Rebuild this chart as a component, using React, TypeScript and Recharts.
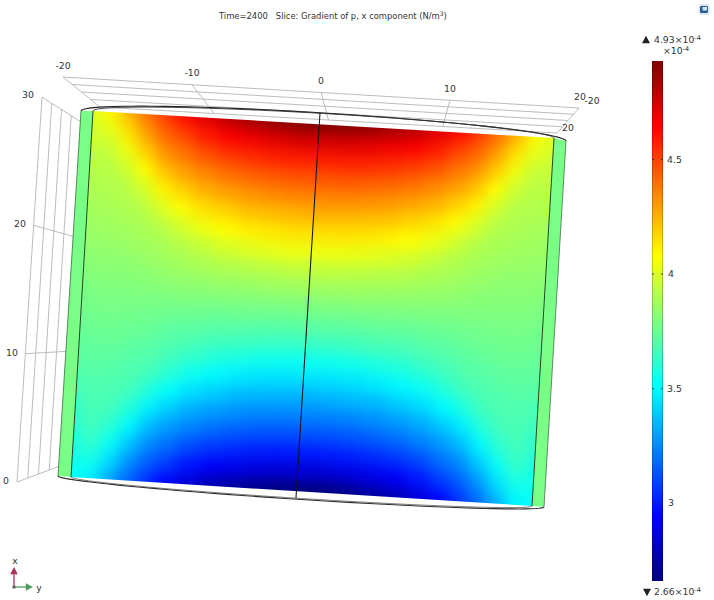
import React from 'react';
import { ComposedChart, XAxis, YAxis, Line, Scatter, ReferenceArea } from 'recharts';

// ---------- data ----------
const titleTime = 'Time=2400';
const titleSlice = 'Slice: Gradient of p, x component (N/m';
const horizontalTicks = [-20, -10, 0, 10, 20];
const heightTicks = [0, 10, 20, 30];
const colorbarTicks = [3, 3.5, 4, 4.5];
const colorbarMin = 2.66;
const colorbarMax = 4.93;
const sideWallValue = 3.78;
const columnsU = [0, 0.04, 0.08, 0.12, 0.16, 0.2, 0.25, 0.3, 0.35, 0.4, 0.45, 0.5];
const rowsW = [0, 0.05, 0.1, 0.15, 0.2, 0.25, 0.3, 0.35, 0.4, 0.45, 0.5, 0.55, 0.6, 0.65, 0.7, 0.75, 0.8, 0.85, 0.9, 0.95, 1];
const fieldRows = [
  [4.0, 4.09, 4.25, 4.4, 4.52, 4.63, 4.72, 4.8, 4.85, 4.89, 4.92, 4.93],
  [3.98, 4.02, 4.14, 4.3, 4.42, 4.5, 4.59, 4.65, 4.68, 4.71, 4.73, 4.73],
  [3.95, 3.95, 4.05, 4.19, 4.32, 4.39, 4.47, 4.52, 4.55, 4.57, 4.58, 4.58],
  [3.93, 3.92, 3.97, 4.08, 4.21, 4.29, 4.35, 4.4, 4.43, 4.45, 4.46, 4.46],
  [3.9, 3.905, 3.92, 3.99, 4.1, 4.18, 4.25, 4.29, 4.32, 4.34, 4.35, 4.35],
  [3.88, 3.89, 3.9, 3.92, 4.0, 4.07, 4.14, 4.18, 4.22, 4.23, 4.24, 4.25],
  [3.86, 3.87, 3.88, 3.895, 3.92, 3.98, 4.04, 4.08, 4.11, 4.13, 4.14, 4.14],
  [3.84, 3.85, 3.855, 3.87, 3.885, 3.915, 3.95, 3.99, 4.01, 4.03, 4.04, 4.04],
  [3.82, 3.83, 3.83, 3.84, 3.855, 3.875, 3.89, 3.91, 3.92, 3.93, 3.94, 3.94],
  [3.8, 3.81, 3.81, 3.815, 3.82, 3.835, 3.84, 3.85, 3.85, 3.86, 3.86, 3.86],
  [3.78, 3.79, 3.79, 3.79, 3.79, 3.79, 3.79, 3.79, 3.79, 3.79, 3.79, 3.79],
  [3.76, 3.77, 3.77, 3.765, 3.76, 3.745, 3.74, 3.73, 3.73, 3.72, 3.72, 3.72],
  [3.74, 3.75, 3.75, 3.74, 3.725, 3.705, 3.69, 3.67, 3.66, 3.65, 3.64, 3.64],
  [3.72, 3.73, 3.725, 3.71, 3.695, 3.665, 3.63, 3.59, 3.57, 3.55, 3.54, 3.54],
  [3.7, 3.71, 3.7, 3.685, 3.66, 3.6, 3.54, 3.5, 3.47, 3.45, 3.44, 3.44],
  [3.67, 3.69, 3.68, 3.66, 3.58, 3.51, 3.44, 3.4, 3.36, 3.35, 3.34, 3.33],
  [3.64, 3.675, 3.66, 3.59, 3.48, 3.4, 3.33, 3.29, 3.26, 3.24, 3.23, 3.23],
  [3.61, 3.66, 3.61, 3.5, 3.37, 3.29, 3.23, 3.18, 3.15, 3.13, 3.12, 3.12],
  [3.58, 3.63, 3.53, 3.39, 3.26, 3.19, 3.11, 3.06, 3.03, 3.01, 3.0, 3.0],
  [3.55, 3.56, 3.44, 3.28, 3.16, 3.08, 2.99, 2.93, 2.9, 2.87, 2.85, 2.85],
  [3.52, 3.49, 3.33, 3.18, 3.06, 2.95, 2.86, 2.78, 2.73, 2.69, 2.66, 2.66],
];
const jetStops = [
  { t: 0, c: [0, 0, 127] },
  { t: 0.125, c: [0, 0, 255] },
  { t: 0.375, c: [0, 255, 255] },
  { t: 0.625, c: [255, 255, 0] },
  { t: 0.875, c: [255, 0, 0] },
  { t: 1, c: [127, 0, 0] },
];

// ---------- view (the 3D projection of the picture) ----------
type P = { x: number; y: number };
const W = 714;
const H = 600;
const FONT = '"DejaVu Sans", sans-serif';
const TL = { x: 93, y: 111 }, TR = { x: 554, y: 138 }, BL = { x: 71, y: 477 }, BR = { x: 532, y: 506 };
const OTL = { x: 81, y: 111 }, OTR = { x: 566, y: 141 }, OBL = { x: 58, y: 476 }, OBR = { x: 544, y: 507 };
const EU = { x: TR.x - TL.x, y: TR.y - TL.y };
const EW = { x: BL.x - TL.x, y: BL.y - TL.y };
const lerp = (a: P, b: P, t: number): P => ({ x: a.x + (b.x - a.x) * t, y: a.y + (b.y - a.y) * t });
const slice = (u: number, w: number): P => ({ x: TL.x + EU.x * u + EW.x * w, y: TL.y + EU.y * u + EW.y * w });

const jetColor = (v: number) => {
  const t = Math.max(0, Math.min(1, (v - colorbarMin) / (colorbarMax - colorbarMin)));
  let i = 0;
  while (i < jetStops.length - 2 && t > jetStops[i + 1].t) i++;
  const a = jetStops[i], b = jetStops[i + 1];
  const f = (t - a.t) / (b.t - a.t);
  const ch = a.c.map((x, k) => Math.round(x + (b.c[k] - x) * f));
  return `rgb(${ch[0]},${ch[1]},${ch[2]})`;
};

// full column list: read half plus its mirror
const allU = [...columnsU, ...columnsU.slice(0, -1).reverse().map((u) => 1 - u)];
const fieldCells = fieldRows.flatMap((row, r) => {
  const full = [...row, ...row.slice(0, -1).reverse()];
  return full.map((value, c) => {
    const u = allU[c], w = rowsW[r];
    const u0 = c === 0 ? u - 0.08 : (u + allU[c - 1]) / 2;
    const u1 = c === allU.length - 1 ? u + 0.08 : (u + allU[c + 1]) / 2;
    const w0 = r === 0 ? w - 0.1 : (w + rowsW[r - 1]) / 2;
    const w1 = r === rowsW.length - 1 ? w + 0.1 : (w + rowsW[r + 1]) / 2;
    const p = slice(u, w);
    return { x: p.x, y: p.y, value, du0: u0 - u, du1: u1 - u, dw0: w0 - w, dw1: w1 - w };
  });
});

const FieldCell = (props: any) => {
  const { cx, cy, payload } = props;
  const { du0, du1, dw0, dw1, value } = payload;
  const corner = (du: number, dw: number) => `${cx + EU.x * du + EW.x * dw},${cy + EU.y * du + EW.y * dw}`;
  const pts = [corner(du0, dw0), corner(du1, dw0), corner(du1, dw1), corner(du0, dw1)].join(' ');
  const color = jetColor(value);
  return <polygon points={pts} fill={color} stroke={color} strokeWidth={0.8} />;
};

const Band = (props: any) => {
  const { payload } = props;
  return <polygon points={payload.corners.map((p: P) => `${p.x},${p.y}`).join(' ')} fill={payload.fill} />;
};

const seg = (a: P, b: P) => [a, b];
const arc = (a: P, b: P, bulge: number) => {
  const pts: P[] = [];
  const mid = lerp(a, b, 0.5);
  for (let k = 0; k <= 48; k++) {
    const th = (Math.PI * k) / 48;
    const c = -Math.cos(th) / 2;
    pts.push({ x: mid.x + (b.x - a.x) * c, y: mid.y + (b.y - a.y) * c + bulge * Math.sin(th) });
  }
  return pts;
};

// back planes of the axis box
const PB0 = { x: 63, y: 77 }, PB1 = { x: 579, y: 108 }, PF0 = { x: 100, y: 107 }, PF1 = { x: 557, y: 133 };
const LT0 = { x: 42, y: 97 }, LT1 = { x: 81, y: 122 }, LB0 = { x: 17, y: 482 }, LB1 = { x: 60, y: 466 };
const boxRows = [0, 0.25, 0.5, 0.75, 1];
const GRID = { stroke: '#b4b4b4', width: 0.9 };
const gridLines = [
  ...boxRows.map((r) => seg(lerp(PB0, PF0, r), lerp(PB1, PF1, r))),
  ...horizontalTicks.map((t) => {
    const f = (t + 20) / 40;
    return seg(lerp(PB0, PB1, f), lerp(PF0, PF1, f));
  }),
  ...boxRows.map((r) => seg(lerp(LT0, LT1, r), lerp(LB0, LB1, r))),
  ...heightTicks.map((h) => {
    const f = h / 30;
    return seg(lerp(LB0, LT0, f), lerp(LB1, LT1, f));
  }),
];
const edgeLines = [
  { pts: seg(OTL, OBL), stroke: '#3c6a42', width: 0.8 },
  { pts: seg(OTR, OBR), stroke: '#4a6a50', width: 0.8 },
  { pts: seg(TL, BL), stroke: '#1c3a20', width: 0.95 },
  { pts: seg(TR, BR), stroke: '#1c3a20', width: 0.95 },
  { pts: seg({ x: 320, y: 113 }, { x: 296, y: 498 }), stroke: '#14141c', width: 1.05 },
  { pts: arc(OTL, OTR, -13), stroke: '#222', width: 1.1 },
  { pts: arc(TL, TR, -11), stroke: '#333', width: 0.9 },
  { pts: arc(OBL, OBR, 8), stroke: '#2c2c2c', width: 1.1 },
  { pts: arc(BL, BR, 7), stroke: '#444', width: 0.7 },
];

// colour bar
const CB = { x0: 652, x1: 663, top: 61, bottom: 581 };
const cbY = (v: number) => CB.bottom - ((v - colorbarMin) / (colorbarMax - colorbarMin)) * (CB.bottom - CB.top);
const cbLines = [
  { pts: seg({ x: CB.x0 + 0.4, y: CB.top }, { x: CB.x0 + 0.4, y: CB.bottom }), stroke: 'rgba(0,0,0,0.3)', width: 0.8 },
  { pts: seg({ x: CB.x1 - 0.4, y: CB.top }, { x: CB.x1 - 0.4, y: CB.bottom }), stroke: 'rgba(0,0,0,0.3)', width: 0.8 },
  ...colorbarTicks.flatMap((v) => [
    { pts: seg({ x: CB.x0, y: cbY(v) }, { x: CB.x0 + 2, y: cbY(v) }), stroke: '#222', width: 0.8 },
    { pts: seg({ x: CB.x1 - 2, y: cbY(v) }, { x: CB.x1, y: cbY(v) }), stroke: '#222', width: 0.8 },
  ]),
];

// triad
const triadO = { x: 14, y: 587 };
const triadLines = [
  { pts: seg(triadO, { x: 14, y: 573 }), stroke: '#b0305e', width: 1.3 },
  { pts: seg(triadO, { x: 27, y: 587 }), stroke: '#4f9a5f', width: 1.3 },
];

// texts
const tickLabels = [
  { x: 63, y: 66, text: String(horizontalTicks[0]) },
  { x: 192, y: 73, text: String(horizontalTicks[1]) },
  { x: 321, y: 81, text: String(horizontalTicks[2]) },
  { x: 450, y: 89, text: String(horizontalTicks[3]) },
  { x: 580, y: 97, text: String(horizontalTicks[4]) },
  { x: 592, y: 101, text: String(horizontalTicks[0]) },
  { x: 568, y: 128, text: String(horizontalTicks[4]) },
  { x: 28, y: 95, text: String(heightTicks[3]) },
  { x: 20, y: 224, text: String(heightTicks[2]) },
  { x: 12, y: 353, text: String(heightTicks[1]) },
  { x: 6, y: 481, text: String(heightTicks[0]) },
  ...colorbarTicks.map((v) => ({ x: v === 4 || v === 3 ? 671 : 674.5, y: cbY(v), text: String(v) })),
  { x: 15, y: 561, text: 'x' },
  { x: 39, y: 588, text: 'y' },
];

const TextMark = (props: any) => {
  const { cx, cy, payload } = props;
  return (
    <text x={cx} y={cy} dy="0.35em" textAnchor="middle" fontFamily={FONT} fontSize={9.3} fill="#333">
      {payload.text}
    </text>
  );
};

const TitleMark = (props: any) => {
  const { cx, cy } = props;
  return (
    <text x={cx} y={cy} dy="0.35em" fontFamily={FONT} fontSize={8.4} fill="#333" xmlSpace="preserve">
      {titleTime + '   ' + titleSlice}
      <tspan fontSize={6} dy={-3}>3</tspan>
      <tspan dy={3}>)</tspan>
    </text>
  );
};

const PowerMark = (props: any) => {
  const { cx, cy, payload } = props;
  return (
    <text x={cx} y={cy} dy="0.35em" fontFamily={FONT} fontSize={9.3} fill="#333">
      {payload.text}
      <tspan fontSize={6.5} dy={-3}>-4</tspan>
    </text>
  );
};

const Triangle = (props: any) => {
  const { cx, cy, payload } = props;
  const { dx, dy, size, fill } = payload;
  const nx = -dy, ny = dx;
  const bx = cx - dx * size * 0.8, by = cy - dy * size * 0.8;
  const pts = [
    `${cx + dx * size},${cy + dy * size}`,
    `${bx + nx * size * 0.95},${by + ny * size * 0.95}`,
    `${bx - nx * size * 0.95},${by - ny * size * 0.95}`,
  ].join(' ');
  return <polygon points={pts} fill={fill} />;
};

const Icon = (props: any) => {
  const { cx, cy } = props;
  return (
    <g>
      <rect x={cx - 5.5} y={cy - 5.5} width={11} height={11} rx={3} fill="#dbe6f0" />
      <rect x={cx - 4} y={cy - 3.5} width={8} height={7} rx={1.2} fill="#2c5f8e" />
      <rect x={cx - 1.5} y={cy - 2.5} width={4.5} height={3.5} fill="#cfe4f5" />
    </g>
  );
};

const Dot = (props: any) => <circle cx={props.cx} cy={props.cy} r={1.8} fill="#666" />;
const NoMark = () => null;

const sideBands = [
  { x: 0, y: 0, fill: jetColor(sideWallValue), corners: [OTL, TL, BL, OBL] },
  { x: 0, y: 0, fill: jetColor(sideWallValue), corners: [TR, OTR, OBR, BR] },
];

const drawGrid = (pts: P[], key: string) => (
  <Line
    key={key}
    data={pts}
    dataKey="y"
    type="linear"
    stroke={GRID.stroke}
    strokeWidth={GRID.width}
    dot={false}
    activeDot={false}
    legendType="none"
    isAnimationActive={false}
  />
);

const drawStroke = (l: { pts: P[]; stroke: string; width: number }, key: string) => (
  <Scatter
    key={key}
    data={l.pts}
    line={{ stroke: l.stroke, strokeWidth: l.width }}
    shape={NoMark}
    legendType="none"
    isAnimationActive={false}
  />
);

export default function App() {
  return (
    <div style={{ position: 'absolute', left: 0, top: 0, width: W, height: H, background: '#fff' }}>
      <style>{`.heat-field{filter:url(#heatBlur);clip-path:url(#sliceClip);}`}</style>
      <ComposedChart width={W} height={H} margin={{ top: 0, right: 0, bottom: 0, left: 0 }}>
        <defs>
          <linearGradient id="jetBar" x1="0" y1="1" x2="0" y2="0">
            {jetStops.map((s) => (
              <stop key={s.t} offset={s.t} stopColor={`rgb(${s.c.join(',')})`} />
            ))}
          </linearGradient>
          <filter id="heatBlur" filterUnits="userSpaceOnUse" x={0} y={0} width={W} height={H} colorInterpolationFilters="sRGB">
            <feGaussianBlur stdDeviation={7} />
          </filter>
          <clipPath id="sliceClip" clipPathUnits="userSpaceOnUse">
            <polygon points={[TL, TR, BR, BL].map((p) => `${p.x},${p.y}`).join(' ')} />
          </clipPath>
        </defs>
        <XAxis hide type="number" dataKey="x" domain={[0, W]} />
        <YAxis hide type="number" dataKey="y" domain={[0, H]} reversed width={0} />

        {gridLines.map((pts, i) => drawGrid(pts, `g${i}`))}

        <Scatter data={sideBands} shape={Band} isAnimationActive={false} />
        <Scatter className="heat-field" data={fieldCells} shape={FieldCell} isAnimationActive={false} />

        <ReferenceArea x1={CB.x0} x2={CB.x1} y1={CB.top} y2={CB.bottom} fill="url(#jetBar)" fillOpacity={1} stroke="none" />

        {edgeLines.map((l, i) => drawStroke(l, `e${i}`))}
        {cbLines.map((l, i) => drawStroke(l, `c${i}`))}
        {triadLines.map((l, i) => drawStroke(l, `t${i}`))}

        <Scatter data={[{ x: 14, y: 571, dx: 0, dy: -1, size: 4, fill: '#b0305e' }, { x: 29, y: 587, dx: 1, dy: 0, size: 4, fill: '#4f9a5f' }]} shape={Triangle} isAnimationActive={false} />
        <Scatter data={[triadO]} shape={Dot} isAnimationActive={false} />
        <Scatter data={[{ x: 646, y: 40, dx: 0, dy: -1, size: 4.2, fill: '#222' }, { x: 647, y: 592, dx: 0, dy: 1, size: 4.2, fill: '#222' }]} shape={Triangle} isAnimationActive={false} />

        <Scatter data={tickLabels} shape={TextMark} isAnimationActive={false} />
        <Scatter data={[{ x: 219, y: 16 }]} shape={TitleMark} isAnimationActive={false} />
        <Scatter
          data={[
            { x: 654, y: 40, text: `${colorbarMax}×10` },
            { x: 663, y: 51, text: '×10' },
            { x: 654, y: 592, text: `${colorbarMin}×10` },
          ]}
          shape={PowerMark}
          isAnimationActive={false}
        />
        <Scatter data={[{ x: 704, y: 9.5 }]} shape={Icon} isAnimationActive={false} />
      </ComposedChart>
    </div>
  );
}
